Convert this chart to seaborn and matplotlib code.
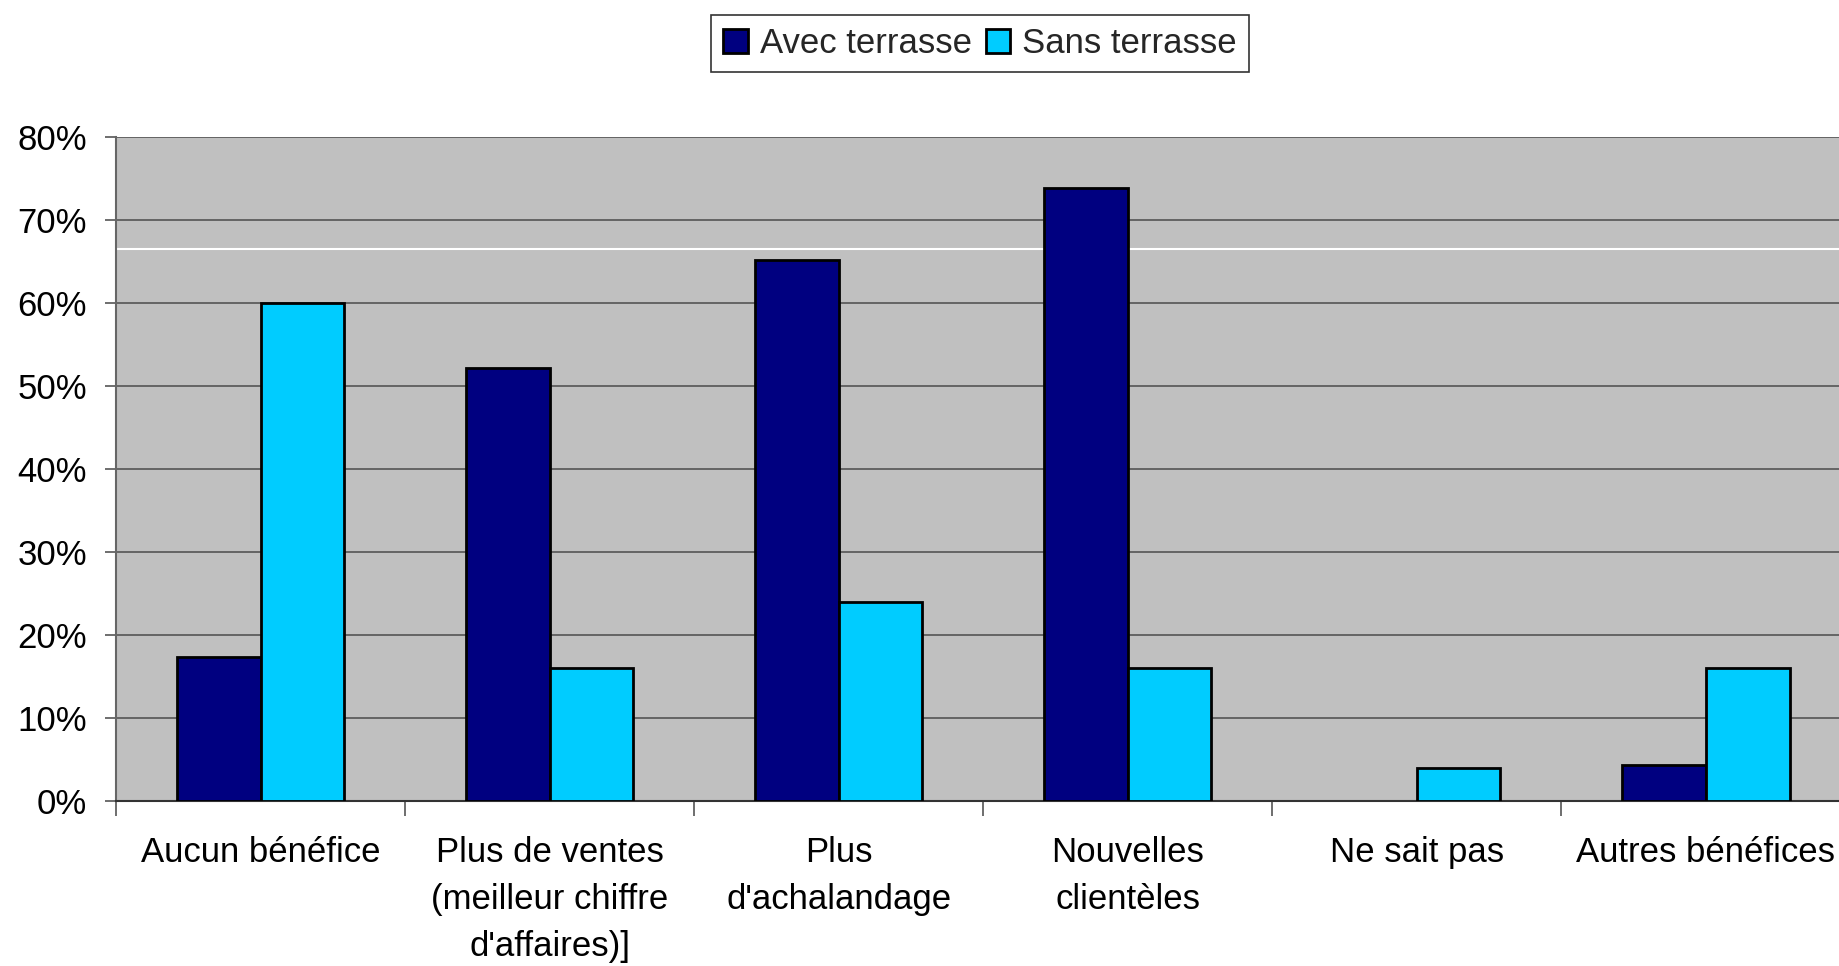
import matplotlib
matplotlib.use("Agg")
import matplotlib.pyplot as plt
import seaborn as sns
import pandas as pd
from matplotlib.ticker import PercentFormatter, FixedLocator, NullFormatter

# Survey answers: perceived benefits of a terrace
categories = [
    "Aucun bénéfice",
    "Plus de ventes\n(meilleur chiffre\nd'affaires)]",
    "Plus\nd'achalandage",
    "Nouvelles\nclientèles",
    "Ne sait pas",
    "Autres bénéfices",
]
avec_terrasse = [0.174, 0.522, 0.652, 0.739, 0.0, 0.043]
sans_terrasse = [0.60, 0.16, 0.24, 0.16, 0.04, 0.16]
series_names = ["Avec terrasse", "Sans terrasse"]
colors = ["#000080", "#00CCFF"]
y_ticks = [0, 0.1, 0.2, 0.3, 0.4, 0.5, 0.6, 0.7, 0.8]

df = pd.DataFrame({
    "categorie": categories * 2,
    "serie": [series_names[0]] * len(categories) + [series_names[1]] * len(categories),
    "valeur": avec_terrasse + sans_terrasse,
})

sns.set_theme(style="white")
plt.rcParams["font.family"] = ["Liberation Sans", "DejaVu Sans"]

fig = plt.figure(figsize=(18.39, 9.66), dpi=100)
ax = fig.add_axes([0.0631, 0.1708, 0.943, 0.687])
ax.set_facecolor("#C0C0C0")

sns.barplot(
    data=df, x="categorie", y="valeur", hue="serie",
    order=categories, hue_order=series_names, palette=colors,
    width=0.58, edgecolor="black", linewidth=2, saturation=1,
    ax=ax, zorder=3,
)
# an empty bar leaves no outline on the axis
for container in ax.containers:
    for bar in container:
        if bar.get_height() == 0:
            bar.set_visible(False)

ax.set_ylim(0, 0.8)
ax.set_xlim(-0.5, len(categories) - 0.5)
ax.yaxis.set_major_locator(FixedLocator(y_ticks))
ax.yaxis.set_major_formatter(PercentFormatter(1.0, decimals=0))
ax.grid(axis="y", color="#555555", linewidth=1.2, zorder=0)
ax.set_axisbelow(True)
ax.axhline(0.665, color="white", linewidth=1.5, zorder=1)

ax.set_xlabel("")
ax.set_ylabel("")

# Category separators as downward ticks between groups
ax.xaxis.set_minor_locator(FixedLocator([i - 0.5 for i in range(len(categories) + 1)]))
ax.xaxis.set_minor_formatter(NullFormatter())
ax.tick_params(axis="x", which="minor", bottom=True, length=11, width=1.2, color="#555555", direction="out")
ax.tick_params(axis="x", which="major", bottom=True, length=0, pad=25, labelsize=25, labelcolor="black")
ax.tick_params(axis="y", which="major", left=True, length=8, width=1.2, color="#555555", direction="out", pad=13, labelsize=25, labelcolor="black")
for lbl in ax.get_xticklabels():
    lbl.set_linespacing(1.55)

for side in ["top", "right"]:
    ax.spines[side].set_visible(False)
ax.spines["left"].set_color("#666666")
ax.spines["left"].set_linewidth(1.5)
ax.spines["bottom"].set_color("#333333")
ax.spines["bottom"].set_linewidth(1.5)

leg = ax.legend(
    loc="center", bbox_to_anchor=(0.533, 0.955), bbox_transform=fig.transFigure,
    ncol=2, frameon=True, fancybox=False, edgecolor="black", fontsize=25,
    handlelength=0.7, handleheight=0.7, handletextpad=0.35, columnspacing=0.4,
    borderpad=0.35,
)
leg.get_frame().set_linewidth(1.2)
for h in leg.legend_handles:
    h.set_visible(True)
    h.set_linewidth(2)

fig.savefig("out.png", dpi=100, facecolor="white")
